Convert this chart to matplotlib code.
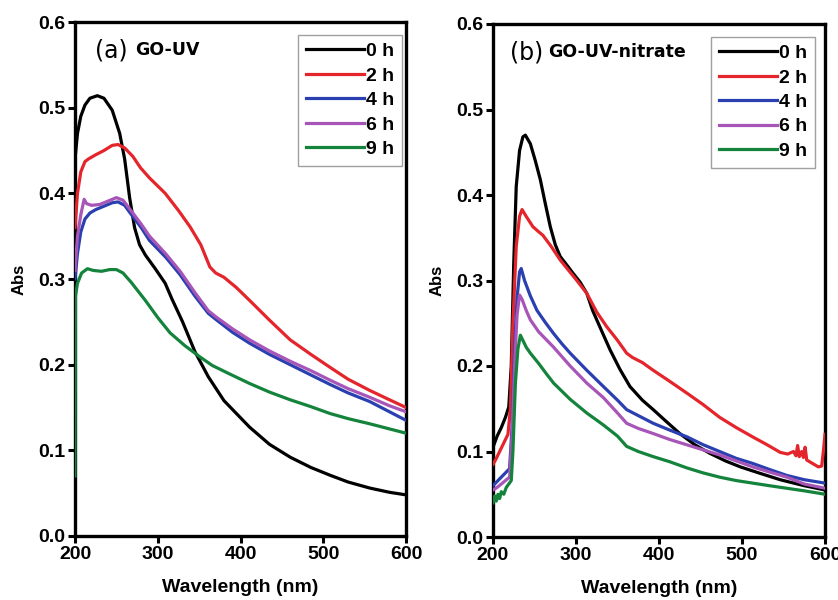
import numpy as np
import matplotlib
matplotlib.use("Agg")
import matplotlib.pyplot as plt

plt.rcParams['font.family'] = ['Liberation Sans', 'DejaVu Sans']

labels = ["0 h", "2 h", "4 h", "6 h", "9 h"]
colors = ["#000000", "#e4262c", "#2a3fb0", "#a855b8", "#14843d"]

# (a) GO-UV
wlBlackA = [200, 203, 207, 212, 218, 227, 235, 245, 254, 260, 266, 272, 278, 285, 297, 309, 317, 330, 345,
            361, 380, 411, 435, 460, 485, 508, 530, 556, 580, 600]
absBlackA = [0.44, 0.47, 0.49, 0.503, 0.511, 0.514, 0.511, 0.497, 0.47, 0.44, 0.395, 0.36, 0.34, 0.328, 0.312,
             0.295, 0.277, 0.25, 0.215, 0.186, 0.158, 0.127, 0.107, 0.092, 0.080, 0.071, 0.063, 0.056, 0.051, 0.048]

wlRedA = [200, 203, 207, 212, 216, 225, 235, 245, 252, 260, 270, 279, 290, 309, 325, 339, 352, 363, 370, 380,
          395, 411, 435, 460, 485, 508, 530, 556, 580, 600]
absRedA = [0.36, 0.40, 0.425, 0.437, 0.44, 0.445, 0.45, 0.456, 0.457, 0.453, 0.443, 0.43, 0.418, 0.40, 0.38,
           0.361, 0.34, 0.314, 0.307, 0.302, 0.29, 0.275, 0.252, 0.229, 0.212, 0.197, 0.183, 0.170, 0.159, 0.150]

wlBlueA = [200, 203, 207, 212, 218, 225, 235, 245, 252, 260, 266, 280, 290, 310, 327, 345, 361, 370, 390, 411,
           435, 460, 485, 508, 530, 556, 580, 600]
absBlueA = [0.30, 0.33, 0.355, 0.37, 0.377, 0.381, 0.385, 0.389, 0.39, 0.386, 0.378, 0.36, 0.345, 0.325, 0.305,
            0.28, 0.26, 0.253, 0.238, 0.225, 0.212, 0.2, 0.188, 0.177, 0.167, 0.157, 0.145, 0.135]

wlPurpleA = [200, 203, 207, 211, 214, 220, 230, 240, 250, 258, 266, 280, 290, 310, 327, 345, 361, 370, 390, 411,
             435, 460, 485, 508, 530, 556, 580, 600]
absPurpleA = [0.31, 0.35, 0.375, 0.393, 0.388, 0.386, 0.387, 0.391, 0.395, 0.392, 0.382, 0.364, 0.35, 0.329,
              0.309, 0.284, 0.263, 0.256, 0.242, 0.229, 0.216, 0.204, 0.193, 0.182, 0.172, 0.162, 0.152, 0.145]

wlGreenA = [200, 200.5, 203, 208, 215, 222, 232, 242, 250, 258, 268, 285, 300, 315, 333, 351, 366, 385, 411,
            435, 460, 485, 508, 530, 556, 580, 600]
absGreenA = [0.07, 0.28, 0.295, 0.307, 0.312, 0.31, 0.309, 0.311, 0.311, 0.307, 0.296, 0.275, 0.255, 0.237,
             0.222, 0.209, 0.199, 0.19, 0.178, 0.168, 0.159, 0.151, 0.143, 0.137, 0.131, 0.125, 0.12]

# (b) GO-UV-nitrate
wlBlackB = [200, 205, 210, 215, 219, 222, 225, 228, 232, 236, 239, 245, 251, 257, 263, 269, 275, 281, 289, 296,
            305, 313, 320, 330, 341, 353, 365, 380, 393, 410, 425, 443, 461, 480, 498, 520, 546, 575, 600]
absBlackB = [0.105, 0.118, 0.128, 0.14, 0.152, 0.2, 0.32, 0.41, 0.452, 0.468, 0.47, 0.46, 0.44, 0.418, 0.39,
             0.363, 0.342, 0.328, 0.318, 0.309, 0.298, 0.285, 0.265, 0.243, 0.219, 0.196, 0.176, 0.16, 0.149,
             0.134, 0.121, 0.108, 0.098, 0.089, 0.082, 0.075, 0.067, 0.06, 0.055]

wlRedB = [200, 203, 207, 212, 218, 221, 224, 228, 232, 235, 240, 248, 255, 260, 270, 281, 291, 301, 313, 325,
          337, 350, 361, 368, 380, 393, 413, 434, 453, 473, 493, 513, 530, 546, 555, 562, 565, 567, 569, 572,
          574, 576, 578, 585, 592, 596, 598, 600]
absRedB = [0.085, 0.09, 0.098, 0.108, 0.12, 0.15, 0.25, 0.34, 0.375, 0.383, 0.375, 0.363, 0.357, 0.353, 0.34,
           0.324, 0.312, 0.3, 0.285, 0.263, 0.246, 0.23, 0.215, 0.21, 0.204, 0.195, 0.182, 0.168, 0.155, 0.14,
           0.128, 0.117, 0.108, 0.099, 0.097, 0.1, 0.095, 0.107, 0.094, 0.1, 0.093, 0.105, 0.09, 0.086, 0.082,
           0.083, 0.1, 0.12]

wlBlueB = [200, 205, 210, 215, 220, 223, 226, 229, 232, 234, 238, 245, 253, 263, 273, 283, 293, 313, 333, 350,
           361, 375, 393, 413, 434, 453, 473, 493, 513, 533, 554, 575, 600]
absBlueB = [0.06, 0.065, 0.07, 0.075, 0.08, 0.13, 0.22, 0.28, 0.31, 0.314, 0.3, 0.282, 0.265, 0.251, 0.238,
            0.226, 0.215, 0.195, 0.176, 0.16, 0.149, 0.142, 0.133, 0.125, 0.117, 0.108, 0.1, 0.092, 0.086,
            0.079, 0.072, 0.067, 0.063]

wlPurpleB = [200, 205, 210, 215, 220, 223, 226, 229, 232, 235, 240, 245, 255, 265, 273, 293, 313, 333, 350,
             361, 375, 393, 413, 433, 453, 473, 493, 513, 533, 554, 575, 600]
absPurpleB = [0.055, 0.058, 0.062, 0.066, 0.07, 0.12, 0.2, 0.26, 0.283, 0.278, 0.265, 0.254, 0.24, 0.23,
              0.222, 0.2, 0.18, 0.163, 0.145, 0.133, 0.127, 0.121, 0.114, 0.108, 0.102, 0.096, 0.089, 0.082,
              0.076, 0.07, 0.062, 0.057]

wlGreenB = [200, 202, 204, 206, 208, 210, 213, 216, 219, 222, 224, 227, 230, 233, 236, 240, 245, 255, 265, 273,
            293, 313, 333, 350, 361, 375, 393, 413, 433, 453, 473, 493, 513, 533, 554, 575, 600]
absGreenB = [0.04, 0.048, 0.042, 0.05, 0.045, 0.053, 0.05, 0.058, 0.062, 0.066, 0.1, 0.18, 0.22, 0.236, 0.23,
             0.222, 0.215, 0.203, 0.19, 0.18, 0.161, 0.145, 0.131, 0.118, 0.106, 0.1, 0.094, 0.088, 0.081,
             0.075, 0.07, 0.066, 0.063, 0.06, 0.057, 0.054, 0.05]

panels = [
    ("(a)", "GO-UV", [(wlBlackA, absBlackA), (wlRedA, absRedA), (wlBlueA, absBlueA),
                      (wlPurpleA, absPurpleA), (wlGreenA, absGreenA)]),
    ("(b)", "GO-UV-nitrate", [(wlBlackB, absBlackB), (wlRedB, absRedB), (wlBlueB, absBlueB),
                              (wlPurpleB, absPurpleB), (wlGreenB, absGreenB)]),
]

fig = plt.figure(figsize=(8.38, 6.0), dpi=100)
axRects = [[0.0895, 0.1067, 0.395, 0.8566], [0.5883, 0.105, 0.3962, 0.855]]
titleX = [(0.06, 0.181), (0.051, 0.166)]
legendAnchor = [(0.988, 0.975), (0.97, 0.975)]

for i, (tag, name, series) in enumerate(panels):
    ax = fig.add_axes(axRects[i])
    for (wl, ab), col, lab in zip(series, colors, labels):
        # lines sit on top of the spines like in the original
        ax.plot(wl, ab, color=col, lw=2.3, label=lab, solid_joinstyle='round', zorder=3)
    ax.set_xlim(200, 600)
    ax.set_ylim(0, 0.6)
    ax.set_xticks([200, 300, 400, 500, 600])
    ax.set_yticks(np.arange(0, 0.61, 0.1))
    ax.set_yticklabels(["%.1f" % v for v in np.arange(0, 0.61, 0.1)])
    ax.tick_params(direction='out', length=5, width=2.2, labelsize=14, pad=2)
    for t in ax.get_xticklabels() + ax.get_yticklabels():
        t.set_fontweight('bold')
    for sp in ax.spines.values():
        sp.set_linewidth(2.4)
    ax.set_xlabel("Wavelength (nm)", fontsize=14, fontweight='bold', labelpad=12)
    ax.set_ylabel("Abs", fontsize=12, fontweight='bold', labelpad=8)
    ax.text(titleX[i][0], 0.945, tag, transform=ax.transAxes, fontsize=17, va='center',
            family=['DejaVu Sans'])
    ax.text(titleX[i][1], 0.945, name, transform=ax.transAxes, fontsize=12.5, va='center',
            fontweight='bold', family=['DejaVu Sans'])
    leg = ax.legend(loc='upper right', bbox_to_anchor=legendAnchor[i], borderaxespad=0,
                    fancybox=False, edgecolor='#888888', handlelength=3.0, handletextpad=0.1,
                    labelspacing=0.35, prop={'size': 14, 'weight': 'bold'}, borderpad=0.4)
    leg.get_frame().set_linewidth(1.0)
    leg.set_zorder(5)

fig.savefig("out.png", dpi=100)
